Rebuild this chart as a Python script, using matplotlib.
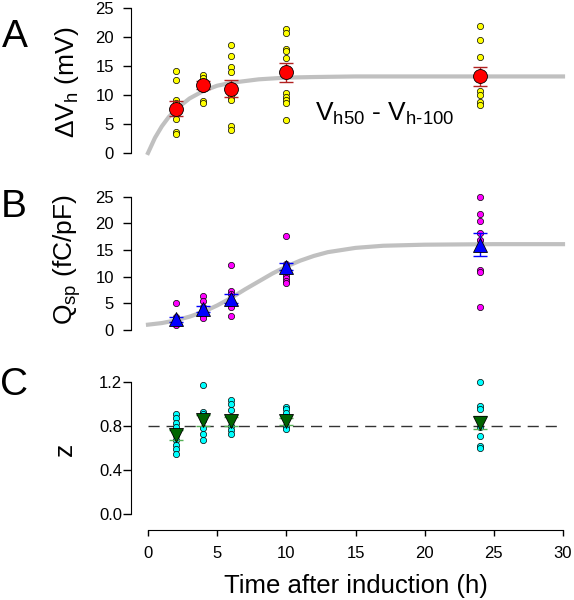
import numpy as np
import matplotlib
matplotlib.use('Agg')
import matplotlib.pyplot as plt

plt.rcParams['font.family'] = ['Liberation Sans', 'DejaVu Sans']
plt.rcParams['mathtext.fontset'] = 'custom'
plt.rcParams['mathtext.rm'] = 'Liberation Sans'
plt.rcParams['mathtext.it'] = 'Liberation Sans:italic'

# time points (h)
times = [2, 4, 6, 10, 24]

# A: delta Vh (mV), individual cells
dvh_cells = [
    [14.2, 12.6, 9.1, 8.7, 5.9, 3.7, 3.2],
    [13.4, 13.0, 12.2, 11.0, 9.0, 8.6],
    [18.6, 16.7, 14.9, 14.0, 9.7, 9.1, 4.7, 4.0],
    [21.3, 20.7, 17.9, 17.6, 16.4, 10.3, 9.6, 9.1, 8.6, 5.7],
    [21.9, 19.5, 16.5, 10.7, 10.0, 8.8, 8.3],
]
dvh_mean = [7.6, 11.7, 11.1, 13.9, 13.2]
dvh_sem = [1.3, 0.65, 1.5, 1.7, 1.65]
# fitted curve
fitA_t = [0, 0.5, 1, 1.5, 2, 3, 4, 5, 6, 8, 10, 12, 15, 20, 30]
fitA_y = [0, 2.6, 4.6, 6.2, 7.5, 9.4, 10.7, 11.6, 12.1, 12.7, 13.0, 13.1, 13.2, 13.2, 13.2]

# B: Qsp (fC/pF)
qsp_cells = [
    [5.0, 2.4, 2.0, 1.6, 1.2, 0.9],
    [6.3, 5.5, 4.4, 3.6, 2.8, 2.3],
    [12.1, 7.3, 6.8, 5.5, 4.6, 4.3, 2.7],
    [17.6, 12.4, 11.0, 10.4, 9.8, 9.2, 8.8],
    [25.0, 21.8, 20.4, 18.1, 16.8, 11.3, 10.9, 4.4],
]
qsp_mean = [2.0, 3.9, 5.9, 11.9, 16.0]
qsp_sem = [0.5, 0.6, 0.9, 0.7, 2.2]
fitB_t = [0, 1, 2, 3, 4, 5, 6, 7, 8, 9, 10, 11, 12, 13, 14, 15, 17, 20, 25, 30]
fitB_y = [1.0, 1.3, 1.8, 2.5, 3.4, 4.6, 6.0, 7.6, 9.1, 10.6, 11.9, 13.0, 13.9, 14.6,
          15.0, 15.4, 15.8, 16.0, 16.1, 16.1]

# C: z
z_cells = [
    [0.91, 0.87, 0.83, 0.79, 0.72, 0.67, 0.63, 0.59, 0.55],
    [1.17, 0.93, 0.91, 0.85, 0.78, 0.73, 0.67],
    [1.03, 1.00, 0.94, 0.86, 0.80, 0.76, 0.73],
    [0.97, 0.95, 0.92, 0.88, 0.80, 0.77],
    [1.20, 0.98, 0.95, 0.85, 0.79, 0.71, 0.62, 0.60],
]
z_mean = [0.72, 0.85, 0.84, 0.84, 0.83]
z_sem = [0.045, 0.05, 0.04, 0.03, 0.06]
z_ref = 0.8

W, H = 574, 600
fig = plt.figure(figsize=(W / 100, H / 100), dpi=100)


def px_axes(x0, x1, y_bot, y_top):
    return fig.add_axes([x0 / W, 1 - y_bot / H, (x1 - x0) / W, (y_bot - y_top) / H])


axA = px_axes(148, 563, 153, 8)
axB = px_axes(148, 563, 330, 196.7)
axC = px_axes(148, 563, 514.3, 381.7)

for ax in (axA, axB, axC):
    ax.set_xlim(0, 30)
    for s in ('top', 'right'):
        ax.spines[s].set_visible(False)
    ax.spines['left'].set_position(('outward', 12))
    ax.tick_params(axis='y', direction='out', length=5.5, width=1, labelsize=12, pad=7)
    ax.patch.set_visible(False)

for ax in (axA, axB):
    ax.spines['bottom'].set_visible(False)
    ax.set_xticks([])

# panel A
axA.plot(fitA_t, fitA_y, color='#c0c0c0', lw=3, zorder=1, clip_on=False)
for t, vals in zip(times, dvh_cells):
    axA.plot([t] * len(vals), vals, 'o', ms=4.5, mfc='#ffff00', mec='black', mew=0.5,
             zorder=2, clip_on=False)
axA.errorbar(times, dvh_mean, yerr=dvh_sem, fmt='none', ecolor='#b22222', elinewidth=1,
             capsize=5, capthick=1, zorder=3)
axA.plot(times, dvh_mean, 'o', ms=10, mfc='#ff0000', mec='black', mew=0.6, zorder=4)
axA.set_ylim(0, 25)
axA.set_yticks([0, 5, 10, 15, 20, 25])
axA.text(17.1, 6.7, r'V$_{\mathrm{h50}}$ - V$_{\mathrm{h}\text{-}\mathrm{100}}$', fontsize=19,
         ha='center', va='center')

# panel B
axB.plot(fitB_t, fitB_y, color='#c0c0c0', lw=3, zorder=1, clip_on=False)
for t, vals in zip(times, qsp_cells):
    axB.plot([t] * len(vals), vals, 'o', ms=4.5, mfc='#ff00ff', mec='black', mew=0.5,
             zorder=2, clip_on=False)
axB.errorbar(times, qsp_mean, yerr=qsp_sem, fmt='none', ecolor='#0000ff', elinewidth=1,
             capsize=5, capthick=1, zorder=3)
axB.plot(times, qsp_mean, '^', ms=10.5, mfc='#0000ff', mec='black', mew=0.6, zorder=4)
axB.set_ylim(0, 25)
axB.set_yticks([0, 5, 10, 15, 20, 25])

# panel C
axC.axhline(z_ref, color='#333333', lw=1, dashes=(8, 5), zorder=1)
for t, vals in zip(times, z_cells):
    axC.plot([t] * len(vals), vals, 'o', ms=4.5, mfc='#00ffff', mec='black', mew=0.5,
             zorder=2, clip_on=False)
axC.errorbar(times, z_mean, yerr=z_sem, fmt='none', ecolor='#55b055', elinewidth=1,
             capsize=5, capthick=1, zorder=3)
axC.plot(times, z_mean, 'v', ms=10.5, mfc='#006400', mec='black', mew=0.6, zorder=4)
axC.set_ylim(0, 1.2)
axC.set_yticks([0.0, 0.4, 0.8, 1.2])
axC.set_yticklabels(['0.0', '0.4', '0.8', '1.2'])
axC.tick_params(axis='y', pad=1)
axC.spines['bottom'].set_position(('outward', 11))
axC.set_xticks([0, 5, 10, 15, 20, 25, 30])
axC.tick_params(axis='x', direction='out', length=4, width=1, labelsize=12, pad=8)

# labels
fig.text(67 / W, 1 - 82 / H, 'ΔV$_{\\mathrm{h}}$ (mV)', rotation=90, fontsize=19,
         ha='center', va='center')
fig.text(67 / W, 1 - 260 / H, 'Q$_{\\mathrm{sp}}$ (fC/pF)', rotation=90, fontsize=19,
         ha='center', va='center')
fig.text(65 / W, 1 - 449 / H, 'z', rotation=90, fontsize=19, ha='center', va='center')
fig.text(355.5 / W, 1 - 586 / H, 'Time after induction (h)', fontsize=18.5,
         ha='center', va='center')

for letter, (lx, ly) in zip('ABC', [(15, 37), (14, 207), (14, 385)]):
    fig.text(lx / W, 1 - ly / H, letter, fontsize=28, ha='center', va='center')

fig.savefig('out.png', dpi=100)
